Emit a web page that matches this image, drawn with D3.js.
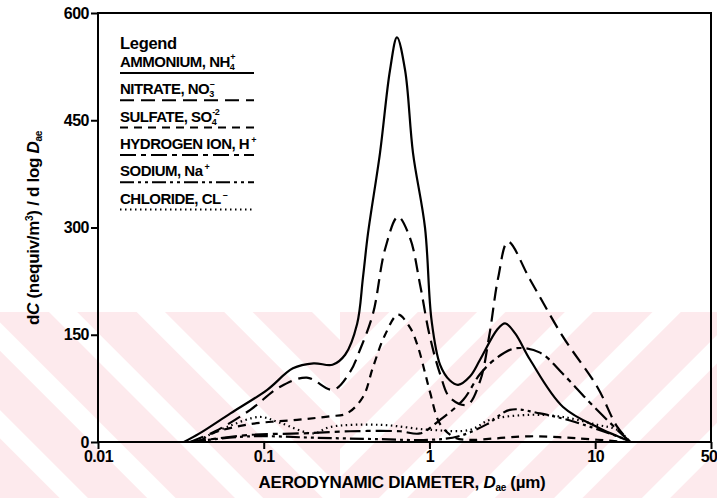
<!DOCTYPE html>
<html>
<head>
<meta charset="utf-8">
<script src="https://cdn.jsdelivr.net/npm/d3@7"></script>
<style>
  body { margin: 0; background: #fff; }
  svg { display: block; font-family: 'Liberation Sans', Arial, sans-serif; font-weight: bold; }
</style>
</head>
<body>
<div id="chart"></div>
<script>
const WIDTH = 717;
const HEIGHT = 498;

// [aerodynamic diameter (um), dC/dlogD (nequiv/m3)]
const ammonium = [[0.033,0],[0.041,12],[0.063,40],[0.105,73],[0.15,103],[0.2,110],[0.26,108],[0.31,122],[0.366,165],[0.397,230],[0.426,292],[0.503,404],[0.578,520],[0.637,566],[0.713,520],[0.796,404],[0.94,300],[1.03,170],[1.16,108],[1.33,86],[1.49,80],[1.76,92],[2.02,115],[2.56,157],[2.86,166],[3.29,152],[4.05,115],[6.4,49],[10.7,19],[15.1,4],[16.3,0]];
const nitrate = [[0.036,0],[0.051,15],[0.083,45],[0.125,77],[0.182,90],[0.262,73],[0.332,98],[0.381,129],[0.457,180],[0.54,270],[0.646,315],[0.764,285],[0.878,220],[1.0,150],[1.16,95],[1.33,62],[1.69,52],[2.02,85],[2.3,150],[2.6,230],[2.98,280],[4.05,227],[6.4,147],[10.3,77],[13.6,21],[16.3,0]];
const sulfate = [[0.041,0],[0.049,12],[0.083,25],[0.159,31],[0.251,36],[0.318,40],[0.397,63],[0.457,105],[0.54,150],[0.646,178],[0.764,160],[0.853,133],[0.94,97],[1.01,69],[1.16,25],[1.43,6],[1.76,3],[2.5,5],[4.0,8],[8.0,5],[15.0,0]];
const hydrogen = [[0.036,0],[0.083,10],[0.166,12],[0.332,15],[0.665,15],[0.878,12],[1.16,31],[1.6,59],[2.02,95],[2.56,118],[3.29,131],[4.65,125],[6.4,95],[9.31,55],[13.6,17],[16.3,0]];
const sodium = [[0.036,0],[0.083,8],[0.2,6],[0.5,4],[1.0,3],[1.5,8],[2.23,25],[3.06,45],[4.65,40],[7.05,30],[13.6,8],[16.3,0]];
const chloride = [[0.0385,0],[0.06,21],[0.095,35],[0.125,27],[0.199,12],[0.251,21],[0.503,24],[1.01,17],[1.76,17],[2.32,31],[4.05,38],[6.4,35],[10.3,24],[13.6,17],[16.3,0]];

const xTicks = [0.01, 0.1, 1, 10, 50];
const xTickLabels = ['0.01', '0.1', '1', '10', '50'];
const yTicks = [0, 150, 300, 450, 600];

const series = [
  {data: ammonium, dash: null, label: ['AMMONIUM, NH', '4', '+']},
  {data: nitrate, dash: '14,7', label: ['NITRATE, NO', '3', '\u2013']},
  {data: sulfate, dash: '8,6', label: ['SULFATE, SO', '4', '-2']},
  {data: hydrogen, dash: '16,5,5,5', label: ['HYDROGEN ION, H', '', '+']},
  {data: sodium, dash: '14,4,3,4,3,4', label: ['SODIUM, Na', '', '+']},
  {data: chloride, dash: '1.5,3.5', label: ['CHLORIDE, CL', '', '\u2013']},
];

function translate(x, y) {
  return `translate(${x}, ${y})`;
}

const svg = d3.select('#chart').append('svg')
  .attr('width', WIDTH)
  .attr('height', HEIGHT);

// Watermark stripes in lower part of the scan
const defs = svg.append('defs');
function stripes(id, angle) {
  const p = defs.append('pattern')
    .attr('id', id)
    .attr('patternUnits', 'userSpaceOnUse')
    .attr('width', 62)
    .attr('height', 62)
    .attr('patternTransform', `rotate(${angle})`);
  p.append('rect').attr('width', 62).attr('height', 62).attr('fill', '#fdeaed');
  p.append('rect').attr('width', 20).attr('height', 62).attr('fill', '#fff');
}
stripes('stripesL', -45);
stripes('stripesR', 45);
svg.append('rect').attr('x', 0).attr('y', 312).attr('width', 340).attr('height', HEIGHT - 312)
  .attr('fill', 'url(#stripesL)');
svg.append('rect').attr('x', 340).attr('y', 312).attr('width', WIDTH - 340).attr('height', HEIGHT - 312)
  .attr('fill', 'url(#stripesR)');

const margin = {top: 13, right: 6, bottom: 56, left: 98};
const width = WIDTH - margin.left - margin.right;
const height = HEIGHT - margin.top - margin.bottom;

const g = svg.append('g').attr('transform', translate(margin.left, margin.top));

const x = d3.scaleLog().domain([0.01, 50]).range([0, width]);
const y = d3.scaleLinear().domain([0, 600]).range([height, 0]);

// frame
g.append('rect')
  .attr('width', width)
  .attr('height', height)
  .attr('fill', 'none')
  .attr('stroke', '#000')
  .attr('stroke-width', 2);

const xAxis = g.append('g')
  .attr('transform', translate(0, height))
  .call(d3.axisBottom(x).tickValues(xTicks).tickFormat((d, i) => xTickLabels[i]).tickSize(7).tickPadding(2));
xAxis.select('.domain').remove();
xAxis.selectAll('.tick line').attr('stroke', '#000').attr('stroke-width', 2);
xAxis.selectAll('.tick text')
  .attr('fill', '#000')
  .attr('font-size', 16)
  .attr('font-weight', 'bold')
  .attr('letter-spacing', -0.5)
  .attr('font-family', "'Liberation Sans', Arial, sans-serif");
xAxis.selectAll('.tick text').filter(d => d === 50)
  .attr('text-anchor', 'end')
  .attr('dx', 6);

const yAxis = g.append('g')
  .call(d3.axisLeft(y).tickValues(yTicks).tickSize(7).tickPadding(2));
yAxis.select('.domain').remove();
yAxis.selectAll('.tick line').attr('stroke', '#000').attr('stroke-width', 2);
yAxis.selectAll('.tick text')
  .attr('fill', '#000')
  .attr('font-size', 16)
  .attr('font-weight', 'bold')
  .attr('letter-spacing', -0.5)
  .attr('font-family', "'Liberation Sans', Arial, sans-serif");

// curves
const line = d3.line()
  .x(d => x(d[0]))
  .y(d => y(Math.max(0, d[1])))
  .curve(d3.curveCatmullRom.alpha(0.5));

series.forEach(s => {
  g.append('path')
    .datum(s.data)
    .attr('fill', 'none')
    .attr('stroke', '#000')
    .attr('stroke-width', 2.2)
    .attr('stroke-linejoin', 'round')
    .attr('stroke-dasharray', s.dash)
    .attr('d', line);
});

// legend
const legend = svg.append('g').attr('transform', translate(120, 0));
legend.append('text')
  .attr('y', 49)
  .attr('font-size', 16.5)
  .attr('letter-spacing', -0.3)
  .text('Legend');

series.forEach((s, i) => {
  const ty = 67 + i * 27.3;
  const t = legend.append('text')
    .attr('y', ty)
    .attr('font-size', 15)
    .attr('letter-spacing', -0.5);
  t.append('tspan').text(s.label[0]);
  if (s.label[1]) {
    t.append('tspan').attr('font-size', 9).attr('dy', 3).text(s.label[1]);
    t.append('tspan').attr('font-size', 9).attr('dx', -4).attr('dy', -10).text(s.label[2]);
  } else {
    t.append('tspan').attr('font-size', 9).attr('dx', 2).attr('dy', -6).text(s.label[2]);
  }
  legend.append('line')
    .attr('x1', 0)
    .attr('x2', 134)
    .attr('y1', ty + 6)
    .attr('y2', ty + 6)
    .attr('stroke', '#000')
    .attr('stroke-width', 2)
    .attr('stroke-dasharray', s.dash);
});

// axis titles
const xt = svg.append('text')
  .attr('x', 402)
  .attr('y', 488)
  .attr('text-anchor', 'middle')
  .attr('font-size', 17)
  .attr('letter-spacing', -0.3);
xt.append('tspan').text('AERODYNAMIC DIAMETER, ');
xt.append('tspan').attr('font-style', 'italic').text('D');
xt.append('tspan').attr('font-size', 10).attr('dy', 3).text('ae');
xt.append('tspan').attr('dy', -3).text(' (\u00b5m)');

const yt = svg.append('text')
  .attr('transform', `translate(39, 228) rotate(-90)`)
  .attr('text-anchor', 'middle')
  .attr('font-size', 17)
  .attr('letter-spacing', -0.3);
yt.append('tspan').text('d');
yt.append('tspan').attr('font-style', 'italic').text('C');
yt.append('tspan').text(' (nequiv/m');
yt.append('tspan').attr('font-size', 10).attr('dy', -6).text('3');
yt.append('tspan').attr('dy', 6).text(') / d log ');
yt.append('tspan').attr('font-style', 'italic').text('D');
yt.append('tspan').attr('font-size', 10).attr('dy', 3).text('ae');
</script>
</body>
</html>
